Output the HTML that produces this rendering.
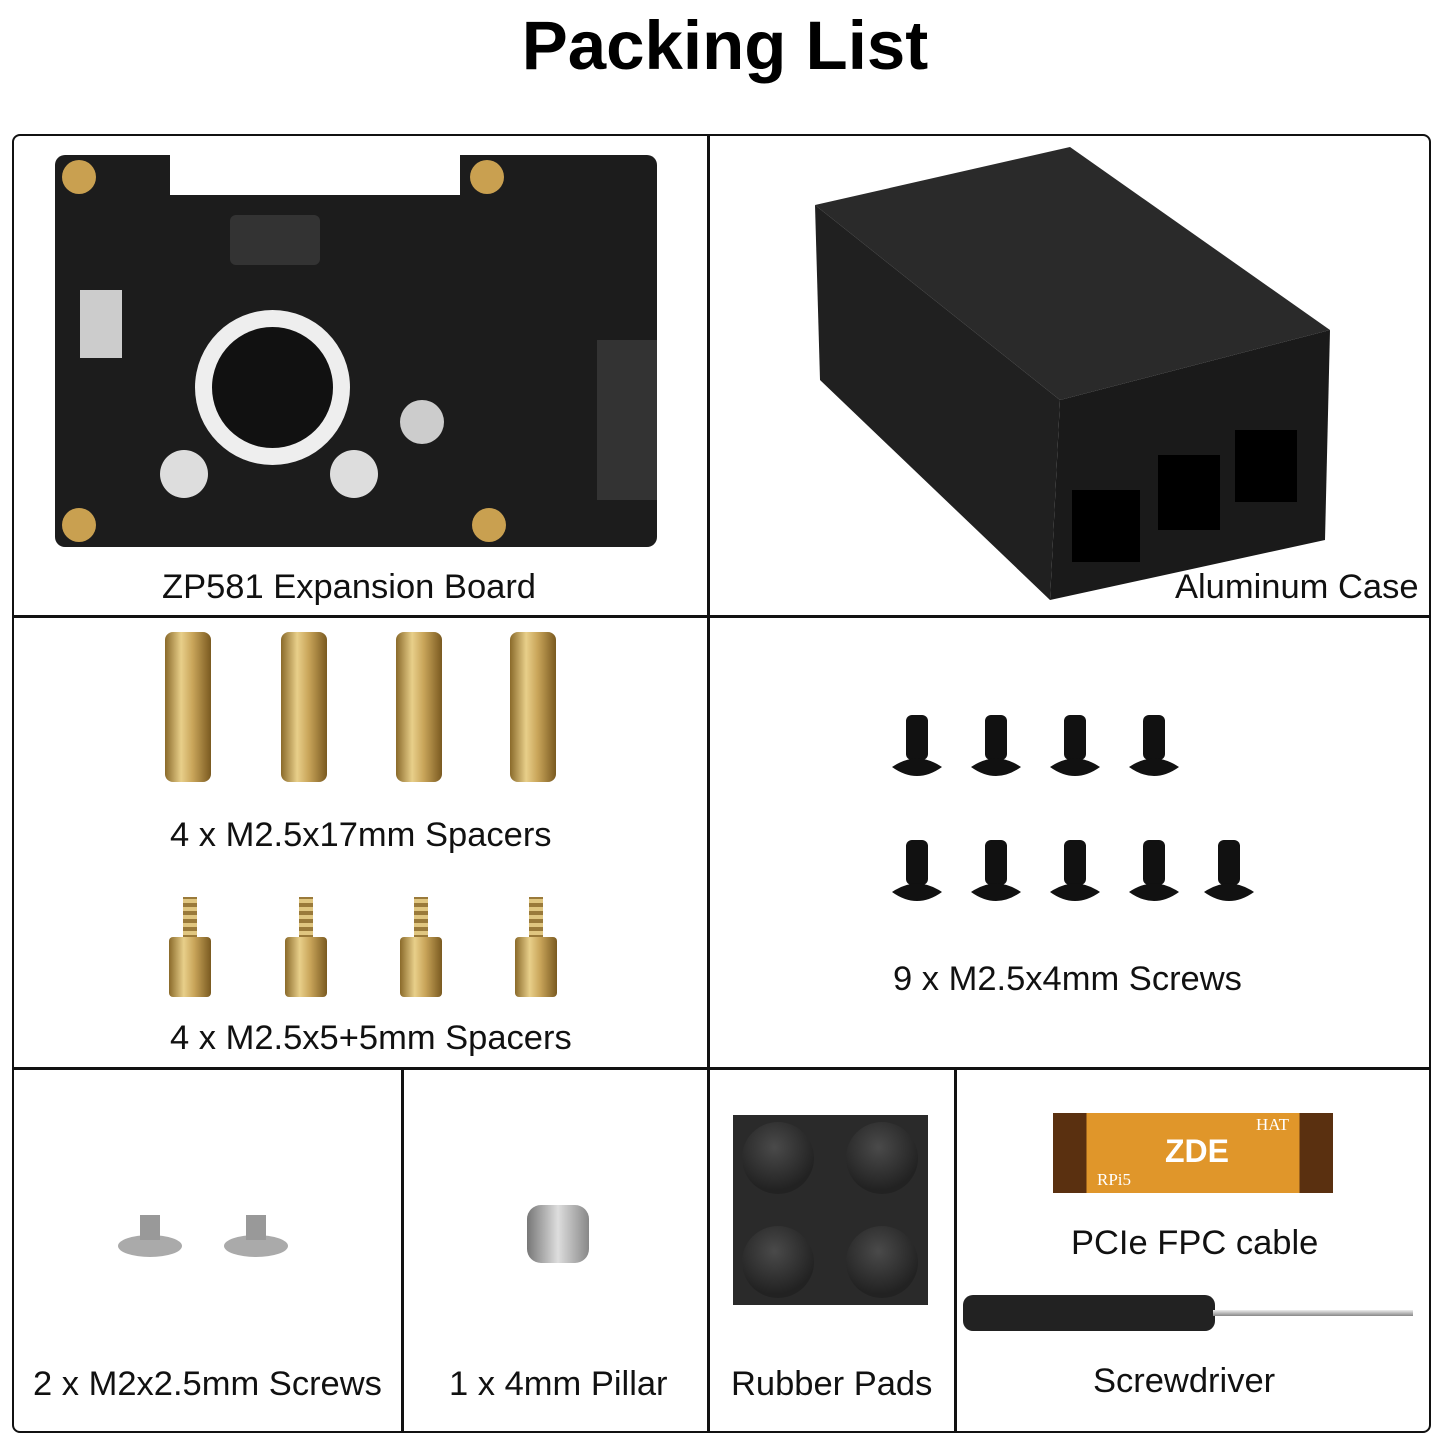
<!DOCTYPE html>
<html style="overflow:hidden;width:1445px;height:1445px"><head><meta charset="utf-8"><style>
body{margin:0;width:1445px;height:1445px;background:#fff;position:relative;overflow:hidden;font-family:"Liberation Sans",sans-serif}
.a{position:absolute}
.t{position:absolute;font-size:34.5px;color:#111;white-space:nowrap}
.ln{position:absolute;background:#111}
.sp{position:absolute;width:46px;height:150px;border-radius:8px;background:linear-gradient(90deg,#8a6a2a,#e8cf8a 35%,#c9a55a 60%,#7a5a20)}
.ss{position:absolute;width:42px;height:60px;border-radius:4px;background:linear-gradient(90deg,#8a6a2a,#e8cf8a 35%,#c9a55a 60%,#7a5a20)}
.th{position:absolute;width:14px;height:42px;background:repeating-linear-gradient(0deg,#9a7a3a 0 4px,#e0c680 4px 8px)}
.dome{position:absolute;width:72px;height:72px;border-radius:50%;background:radial-gradient(circle at 45% 35%,#4a4a4a,#222 70%)}
</style></head><body>
<div class="a" style="left:0;top:6px;width:1450px;text-align:center;font-size:69px;font-weight:bold">Packing List</div>
<div class="a" style="left:12px;top:134px;width:1415px;height:1295px;border:2.5px solid #111;border-radius:8px"></div>
<div class="ln" style="left:707px;top:134px;width:2.5px;height:1298px"></div>
<div class="ln" style="left:12px;top:615px;width:1419px;height:2.5px"></div>
<div class="ln" style="left:12px;top:1067px;width:1419px;height:2.5px"></div>
<div class="ln" style="left:401px;top:1068px;width:2.5px;height:364px"></div>
<div class="ln" style="left:954px;top:1068px;width:2.5px;height:364px"></div>

<!-- board -->
<div class="a" style="left:55px;top:155px;width:602px;height:392px;background:#1c1c1c;border-radius:10px"></div>
<div class="a" style="left:170px;top:155px;width:290px;height:40px;background:#fff"></div>
<div class="a" style="left:195px;top:310px;width:155px;height:155px;border-radius:50%;background:#eee"></div>
<div class="a" style="left:212px;top:327px;width:121px;height:121px;border-radius:50%;background:#111"></div>
<div class="a" style="left:597px;top:340px;width:60px;height:160px;background:#333"></div>
<div class="a" style="left:80px;top:290px;width:42px;height:68px;background:#ccc"></div>
<div class="a" style="left:230px;top:215px;width:90px;height:50px;background:#333;border-radius:6px"></div>
<div class="a" style="left:62px;top:160px;width:34px;height:34px;border-radius:50%;background:#c9a050"></div>
<div class="a" style="left:470px;top:160px;width:34px;height:34px;border-radius:50%;background:#c9a050"></div>
<div class="a" style="left:62px;top:508px;width:34px;height:34px;border-radius:50%;background:#c9a050"></div>
<div class="a" style="left:472px;top:508px;width:34px;height:34px;border-radius:50%;background:#c9a050"></div>
<div class="a" style="left:160px;top:450px;width:48px;height:48px;border-radius:50%;background:#ddd"></div>
<div class="a" style="left:330px;top:450px;width:48px;height:48px;border-radius:50%;background:#ddd"></div>
<div class="a" style="left:400px;top:400px;width:44px;height:44px;border-radius:50%;background:#ccc"></div>
<div class="t" style="left:162px;top:568px">ZP581 Expansion Board</div>

<!-- case -->
<svg class="a" style="left:810px;top:140px" width="530" height="470">
<polygon points="5,65 260,7 520,190 250,260" fill="#2a2a2a"/>
<polygon points="250,260 520,190 515,400 240,460" fill="#1a1a1a"/>
<polygon points="5,65 250,260 240,460 10,240" fill="#202020"/>
<rect x="262" y="350" width="68" height="72" fill="#000"/><rect x="348" y="315" width="62" height="75" fill="#000"/><rect x="425" y="290" width="62" height="72" fill="#000"/>
</svg>
<div class="t" style="left:1175px;top:568px">Aluminum Case</div>

<!-- spacers -->
<div class="sp" style="left:165px;top:632px"></div><div class="sp" style="left:281px;top:632px"></div><div class="sp" style="left:396px;top:632px"></div><div class="sp" style="left:510px;top:632px"></div>
<div class="t" style="left:170px;top:816px">4 x M2.5x17mm Spacers</div>
<div class="th" style="left:183px;top:897px"></div><div class="ss" style="left:169px;top:937px"></div>
<div class="th" style="left:299px;top:897px"></div><div class="ss" style="left:285px;top:937px"></div>
<div class="th" style="left:414px;top:897px"></div><div class="ss" style="left:400px;top:937px"></div>
<div class="th" style="left:529px;top:897px"></div><div class="ss" style="left:515px;top:937px"></div>
<div class="t" style="left:170px;top:1019px">4 x M2.5x5+5mm Spacers</div>

<!-- screws -->
<svg class="a" style="left:892px;top:705px" width="390" height="210">
<g fill="#111">
<g id="s"><rect x="14" y="10" width="22" height="45" rx="6"/><path d="M0,62 Q25,45 50,62 Q25,80 0,62Z"/></g>
<use href="#s" x="79"/><use href="#s" x="158"/><use href="#s" x="237"/>
<use href="#s" y="125"/><use href="#s" x="79" y="125"/><use href="#s" x="158" y="125"/><use href="#s" x="237" y="125"/><use href="#s" x="312" y="125"/>
</g></svg>
<div class="t" style="left:893px;top:960px">9 x M2.5x4mm Screws</div>

<!-- bottom -->
<div class="a" style="left:118px;top:1235px;width:64px;height:22px;border-radius:50%;background:#aaa"></div><div class="a" style="left:140px;top:1215px;width:20px;height:25px;background:#999"></div>
<div class="a" style="left:224px;top:1235px;width:64px;height:22px;border-radius:50%;background:#aaa"></div><div class="a" style="left:246px;top:1215px;width:20px;height:25px;background:#999"></div>
<div class="t" style="left:33px;top:1365px">2 x M2x2.5mm Screws</div>
<div class="a" style="left:527px;top:1205px;width:62px;height:58px;border-radius:14px;background:linear-gradient(90deg,#777,#ddd,#888)"></div>
<div class="t" style="left:449px;top:1365px">1 x 4mm Pillar</div>
<div class="a" style="left:733px;top:1115px;width:195px;height:190px;background:#2a2a2a"></div>
<div class="dome" style="left:742px;top:1122px"></div><div class="dome" style="left:846px;top:1122px"></div><div class="dome" style="left:742px;top:1226px"></div><div class="dome" style="left:846px;top:1226px"></div>
<div class="t" style="left:731px;top:1365px">Rubber Pads</div>
<div class="a" style="left:1053px;top:1113px;width:280px;height:80px;background:linear-gradient(90deg,#5a3010 0 12%,#e0962a 12% 88%,#5a3010 88%)"></div>
<div class="a" style="left:1165px;top:1133px;color:#fff;font-size:32px;font-weight:bold">ZDE</div>
<div class="a" style="left:1256px;top:1115px;color:#fff;font-size:17px;font-family:'Liberation Serif',serif">HAT</div>
<div class="a" style="left:1097px;top:1170px;color:#fff;font-size:17px;font-family:'Liberation Serif',serif">RPi5</div>
<div class="t" style="left:1071px;top:1224px">PCIe FPC cable</div>
<div class="a" style="left:963px;top:1295px;width:252px;height:36px;border-radius:10px;background:#222"></div>
<div class="a" style="left:1213px;top:1310px;width:200px;height:6px;background:linear-gradient(#eee,#888)"></div>
<div class="t" style="left:1093px;top:1362px">Screwdriver</div>
</body></html>
